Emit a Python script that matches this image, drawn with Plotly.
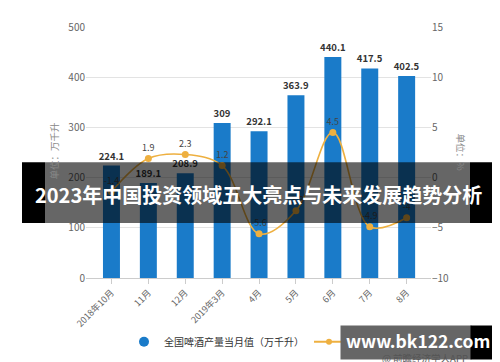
import plotly.graph_objects as go

categories = ["2018年10月", "11月", "12月", "2019年3月", "4月", "5月", "6月", "7月", "8月"]
output_values = [224.1, 189.1, 208.9, 309, 292.1, 363.9, 440.1, 417.5, 402.5]
growth_values = [-1.4, 1.9, 2.3, 1.2, -5.6, -3.3, 4.5, -4.9, -4]
bar_name = "全国啤酒产量当月值（万千升）"
line_name = "当月同比增速（%）"
left_title = "单位：万千升"
right_title = "单位：%"
banner_text = "2023年中国投资领域五大亮点与未来发展趋势分析"
watermark_text = "www.bk122.com"
source_text = "@ 前瞻经济学人APP"

FONT = "Noto Sans CJK SC"
BLUE = "#1A7BC9"
ORANGE = "#EEB040"

W, H = 500, 362
L, R, T, B = 78, 77, 10, 92
PW, PH = W - L - R, H - T - B


def px(x):
    return (x - L) / PW


def py(y):
    return (H - B - y) / PH


fig = go.Figure()

fig.add_trace(go.Bar(
    x=categories, y=output_values, name=bar_name, showlegend=False,
    marker=dict(color=BLUE, line=dict(width=0)), width=0.46,
    text=[f"{v:g}" for v in output_values], textposition="outside",
    constraintext="none",
    textfont=dict(family=FONT, size=9.5, color="#333", weight="bold"),
    cliponaxis=False, yaxis="y",
))

fig.add_trace(go.Scatter(
    x=categories, y=growth_values, name=line_name, showlegend=False,
    mode="lines+markers+text", yaxis="y2",
    line=dict(color=ORANGE, width=1.6, shape="spline", smoothing=1.0),
    marker=dict(color=ORANGE, size=7),
    text=[f"{v:g}" for v in growth_values], textposition="top center",
    textfont=dict(family=FONT, size=9, color="#444"),
    cliponaxis=False,
))

# legend-only entries
fig.add_trace(go.Scatter(
    x=[None], y=[None], name=bar_name, mode="markers",
    marker=dict(color=BLUE, size=10, symbol="circle"), yaxis="y",
))
fig.add_trace(go.Scatter(
    x=[None], y=[None], name=line_name, mode="lines+markers",
    line=dict(color=ORANGE, width=2), marker=dict(color=ORANGE, size=6),
    yaxis="y2",
))

shapes = [
    dict(type="rect", xref="paper", yref="paper", layer="above",
         x0=px(14), x1=px(37), y0=py(150), y1=py(213),
         fillcolor="black", line=dict(width=0)),
    dict(type="rect", xref="paper", yref="paper", layer="above",
         x0=px(462), x1=px(486), y0=py(150), y1=py(213),
         fillcolor="black", line=dict(width=0)),
    dict(type="rect", xref="paper", yref="paper", layer="above",
         x0=px(37), x1=px(462), y0=py(150), y1=py(213),
         fillcolor="rgba(0,0,0,0.6)", line=dict(width=0)),
]

annotations = [
    dict(text=banner_text, xref="paper", yref="paper", x=px(250), y=py(184),
         xanchor="center", yanchor="middle", showarrow=False,
         font=dict(family=FONT, size=20, color="white", weight="bold")),
    dict(text=left_title, xref="paper", yref="paper", x=px(46), y=py(138),
         xanchor="center", yanchor="middle", showarrow=False, textangle=-90,
         font=dict(family=FONT, size=9.5, color="#888")),
    dict(text=right_title, xref="paper", yref="paper", x=px(453), y=py(140),
         xanchor="center", yanchor="middle", showarrow=False, textangle=90,
         font=dict(family=FONT, size=9.5, color="#888")),
    # watermark boxes
    dict(text=" ", xref="paper", yref="paper", x=px(332), y=py(319),
         xanchor="left", yanchor="top", showarrow=False, width=130, height=33,
         bgcolor="#666666", borderpad=0, font=dict(size=10)),
    dict(text=" ", xref="paper", yref="paper", x=px(462), y=py(319),
         xanchor="left", yanchor="top", showarrow=False, width=29, height=33,
         bgcolor="black", borderpad=0, font=dict(size=10)),
    dict(text=watermark_text, xref="paper", yref="paper", x=px(410), y=py(335),
         xanchor="center", yanchor="middle", showarrow=False,
         font=dict(family=FONT, size=17.5, color="white", weight="bold")),
    dict(text=source_text, xref="paper", yref="paper", x=px(417), y=py(353),
         xanchor="center", yanchor="middle", showarrow=False,
         font=dict(family=FONT, size=9.5, color="#555")),
]

fig.update_layout(
    width=W, height=H,
    margin=dict(l=L, r=R, t=T, b=B, pad=0),
    paper_bgcolor="white", plot_bgcolor="white",
    font=dict(family=FONT, size=10, color="#666"),
    bargap=0.5,
    xaxis=dict(type="category", range=[-0.69, 8.66], showgrid=False,
               showline=True, linecolor="#cccccc", linewidth=1,
               ticks="outside", ticklen=5, tickcolor="#cccccc",
               tickangle=-45, tickfont=dict(family=FONT, size=9, color="#666")),
    yaxis=dict(range=[0, 500], dtick=100, showgrid=True, gridcolor="#e3e3e3",
               zeroline=False, showline=False, ticks="",
               tickfont=dict(family=FONT, size=10, color="#666")),
    yaxis2=dict(range=[-10, 15], dtick=5, overlaying="y", side="right",
                showgrid=False, zeroline=False, showline=False, ticks="",
                tickfont=dict(family=FONT, size=10, color="#666")),
    legend=dict(orientation="h", x=px(116), y=py(336), xanchor="left",
                yanchor="middle", itemwidth=30, bgcolor="rgba(0,0,0,0)",
                font=dict(family=FONT, size=10, color="#333")),
    shapes=shapes,
    annotations=annotations,
)

fig.write_html("out.html")
